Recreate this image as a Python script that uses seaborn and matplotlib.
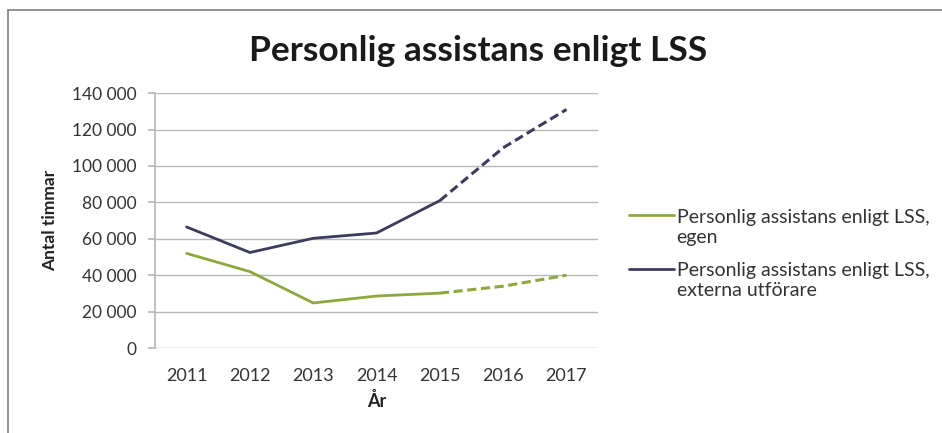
import matplotlib
matplotlib.use("Agg")
import matplotlib.pyplot as plt
import seaborn as sns
import pandas as pd
from matplotlib.lines import Line2D
from matplotlib.legend_handler import HandlerLine2D

years = ["2011", "2012", "2013", "2014", "2015", "2016", "2017"]
egen = [52000, 42000, 24800, 28600, 30200, 34000, 40000]
externa = [66500, 52500, 60300, 63200, 81000, 110000, 131000]
series_names = ["Personlig assistans enligt LSS,\negen",
                "Personlig assistans enligt LSS,\nexterna utförare"]
colors = ["#8ea83a", "#3c3c5c"]
yticks = [0, 20000, 40000, 60000, 80000, 100000, 120000, 140000]
ytick_labels = ["0", "20 000", "40 000", "60 000", "80 000", "100 000", "120 000", "140 000"]
split_year = 4  # index of 2015: actual until here, dashed after


class HandlerTopLine(HandlerLine2D):
    """Place the legend line next to the first text line (Excel-like)."""
    def create_artists(self, legend, orig_handle, xdescent, ydescent, width, height,
                       fontsize, trans):
        arts = super().create_artists(legend, orig_handle, xdescent, ydescent, width,
                                      height, fontsize, trans)
        for a in arts:
            if isinstance(a, Line2D):
                a.set_ydata([y + 0.62 * fontsize for y in a.get_ydata()])
        return arts


sns.set_theme(style="white")
plt.rcParams['font.family'] = ['Lato', 'DejaVu Sans']

fig = plt.figure(figsize=(9.42, 4.33), dpi=100)
ax = fig.add_axes([0.1645, 0.196, 0.4705, 0.589])

idx = list(range(len(years)))
for name, vals, c in zip(series_names, [egen, externa], colors):
    solid = pd.DataFrame({"x": idx[:split_year + 1], "y": vals[:split_year + 1]})
    dashed = pd.DataFrame({"x": idx[split_year:], "y": vals[split_year:]})
    sns.lineplot(data=solid, x="x", y="y", ax=ax, color=c, lw=2, label=name)
    sns.lineplot(data=dashed, x="x", y="y", ax=ax, color=c, lw=2.2,
                 linestyle=(0, (3, 1.5)), label=None)

ax.set_xlim(-0.5, len(years) - 0.5)
ax.set_ylim(0, 140000)
ax.set_xticks(idx)
ax.set_xticklabels(years, fontsize=13, color="#333333")
ax.set_yticks(yticks)
ax.set_yticklabels(ytick_labels, fontsize=12.5, color="#333333")
ax.yaxis.grid(True, color="#b8b8b8", lw=1)
ax.xaxis.grid(False)
for s in ["top", "right", "bottom"]:
    ax.spines[s].set_visible(False)
ax.spines["left"].set_color("#b8b8b8")
ax.tick_params(axis="y", length=5, color="#b8b8b8", left=True, pad=8)
ax.tick_params(axis="x", length=0, pad=14)
ax.set_xlabel("År", fontsize=13, fontweight="bold", color="#222222", labelpad=6)
ax.set_ylabel("Antal timmar", fontsize=12.5, fontweight="bold", color="#222222", labelpad=10)

fig.suptitle("Personlig assistans enligt LSS", x=0.508, y=0.92, fontsize=25.5,
             fontweight="bold", color="#1a1a1a")

handles, labels = ax.get_legend_handles_labels()
leg = ax.legend(handles[:2], labels[:2], loc="center left", bbox_to_anchor=(1.03, 0.37),
                frameon=False, fontsize=14, handlelength=2.3, handletextpad=0.15,
                labelspacing=0.85, labelcolor="#333333",
                handler_map={Line2D: HandlerTopLine()})

fig.add_artist(Line2D([8 / 942, 8 / 942], [0, 1 - 10 / 433], transform=fig.transFigure,
                      color="#8a8a8a", lw=1.3))
fig.add_artist(Line2D([8 / 942, 1], [1 - 10 / 433, 1 - 10 / 433], transform=fig.transFigure,
                      color="#8a8a8a", lw=1.3))

fig.savefig("out.png", dpi=100)
